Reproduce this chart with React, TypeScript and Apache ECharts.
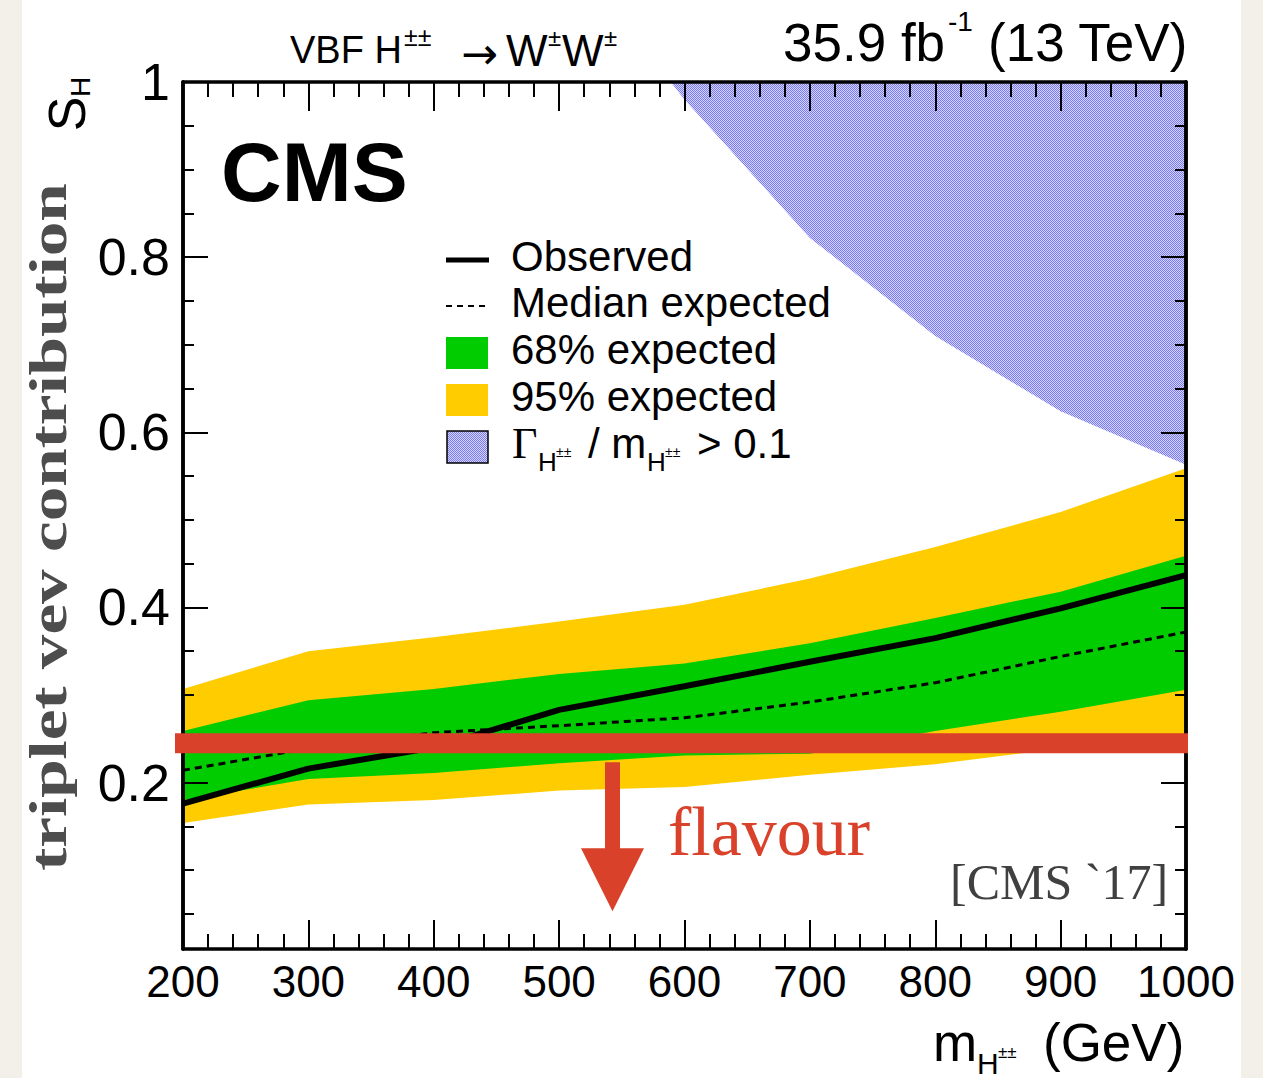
import React, { useEffect, useRef } from "react";
import * as echarts from "echarts";

// Doubly-charged Higgs mass points (GeV)
const MASS = [200, 300, 400, 500, 600, 700, 800, 900, 1000];
// Upper limits on the triplet vev contribution s_H
const OBSERVED = [0.176, 0.216, 0.24, 0.283, 0.31, 0.338, 0.365, 0.399, 0.437];
const EXPECTED = [0.214, 0.239, 0.257, 0.265, 0.274, 0.292, 0.314, 0.344, 0.372];
const BAND68_LOW = [0.18, 0.204, 0.211, 0.222, 0.231, 0.233, 0.259, 0.281, 0.306];
const BAND68_HIGH = [0.259, 0.294, 0.307, 0.324, 0.336, 0.359, 0.388, 0.418, 0.459];
const BAND95_LOW = [0.154, 0.175, 0.18, 0.191, 0.195, 0.209, 0.221, 0.239, 0.252];
const BAND95_HIGH = [0.307, 0.35, 0.366, 0.384, 0.403, 0.433, 0.469, 0.509, 0.559];
// Boundary of the region with Gamma/m > 0.1
const WIDTH_MASS = [589, 600, 700, 800, 900, 1000];
const WIDTH_LIMIT = [1.0, 0.98, 0.822, 0.71, 0.624, 0.563];
// Flavour constraint on s_H
const FLAVOUR_BOUND = 0.245;

const X_MIN = 200;
const X_MAX = 1000;
const X_STEP = 100;
const Y_MIN = 0.01;
const Y_MAX = 1;
const Y_MAJOR = [0.2, 0.4, 0.6, 0.8, 1];
const Y_MINOR = [0.05, 0.1, 0.15, 0.25, 0.3, 0.35, 0.45, 0.5, 0.55, 0.65, 0.7, 0.75, 0.85, 0.9, 0.95];

const GREEN = "#00CC00";
const YELLOW = "#FFCC00";
const RED = "#D9412B";
const SANS = "Liberation Sans";
const SERIF = "Liberation Serif";

function makeHatch() {
  const c = document.createElement("canvas");
  c.width = 2;
  c.height = 2;
  const g = c.getContext("2d")!;
  g.fillStyle = "#D4D4FC";
  g.fillRect(0, 0, 2, 2);
  g.fillStyle = "#7A7AF2";
  g.fillRect(0, 0, 1, 1);
  g.fillRect(1, 1, 1, 1);
  return { image: c, repeat: "repeat", imageWidth: 2, imageHeight: 2 };
}

function bandSeries(name: string, low: number[], high: number[], color: string, z: number) {
  return {
    type: "custom",
    name,
    z,
    silent: true,
    data: MASS.map((m, i) => [m, low[i], high[i]]),
    encode: { x: 0, y: [1, 2] },
    renderItem: (params: any, api: any) => {
      if (params.dataIndex !== 0) return null;
      const upper = MASS.map((m, i) => api.coord([m, high[i]]));
      const lower = MASS.map((m, i) => api.coord([m, low[i]])).reverse();
      return {
        type: "polygon",
        shape: { points: upper.concat(lower) },
        style: { fill: color },
      };
    },
  };
}

function txt(text: string, x: number, y: number, size: number, extra: any = {}, el: any = {}) {
  const align = extra.align || "left";
  return {
    type: "text",
    x,
    y,
    z: 50,
    silent: true,
    ...el,
    style: {
      text,
      fontSize: size,
      fontFamily: SANS,
      fill: "#000",
      align,
      textAlign: align,
      verticalAlign: "middle",
      textVerticalAlign: "middle",
      ...extra,
    },
  };
}

const axisLine = { show: true, onZero: false, lineStyle: { color: "#000", width: 3.5 } };
const tickLine = { color: "#000", width: 2 };

function xAxisDef(position: "bottom" | "top", labels: boolean) {
  return {
    type: "value",
    position,
    min: X_MIN,
    max: X_MAX,
    interval: X_STEP,
    z: 10,
    axisLine,
    axisTick: { show: true, inside: true, length: 29, lineStyle: tickLine },
    minorTick: { show: true, splitNumber: 5, length: 15, lineStyle: tickLine },
    axisLabel: {
      show: labels,
      fontSize: 44,
      fontFamily: SANS,
      color: "#000",
      margin: 10,
      formatter: (v: number) => String(v),
    },
    splitLine: { show: false },
    minorSplitLine: { show: false },
  };
}

function yAxisDef(position: "left" | "right", ticks: number[], len: number, labels: boolean) {
  return {
    type: "value",
    position,
    min: Y_MIN,
    max: Y_MAX,
    z: 10,
    axisLine,
    axisTick: { show: true, inside: true, length: len, customValues: ticks, lineStyle: tickLine },
    axisLabel: {
      show: labels,
      customValues: Y_MAJOR,
      showMaxLabel: true,
      showMinLabel: true,
      fontSize: 52,
      fontFamily: SANS,
      color: "#000",
      margin: 13,
      formatter: (v: number) => String(v),
    },
    splitLine: { show: false },
  };
}

export default function App() {
  const ref = useRef<HTMLDivElement>(null);

  useEffect(() => {
    document.body.style.margin = "0";
    document.body.style.overflow = "hidden";
    const chart = echarts.init(ref.current!, undefined, { renderer: "svg" });
    const hatch = makeHatch();

    chart.setOption({
      animation: false,
      backgroundColor: "#fff",
      grid: { left: 183, right: 77, top: 82, bottom: 129, containLabel: false },
      xAxis: [xAxisDef("bottom", true), xAxisDef("top", false)],
      yAxis: [
        yAxisDef("left", Y_MAJOR, 25, true),
        yAxisDef("left", Y_MINOR, 11, false),
        yAxisDef("right", Y_MAJOR, 25, false),
        yAxisDef("right", Y_MINOR, 11, false),
      ],
      series: [
        {
          type: "line",
          name: "width",
          data: WIDTH_MASS.map((m, i) => [m, WIDTH_LIMIT[i]]),
          symbol: "none",
          silent: true,
          clip: true,
          z: 1,
          lineStyle: { width: 0, opacity: 0 },
          areaStyle: { origin: "end", color: hatch, opacity: 1 },
        },
        bandSeries("95% expected", BAND95_LOW, BAND95_HIGH, YELLOW, 2),
        bandSeries("68% expected", BAND68_LOW, BAND68_HIGH, GREEN, 3),
        {
          type: "line",
          name: "Median expected",
          data: MASS.map((m, i) => [m, EXPECTED[i]]),
          symbol: "none",
          silent: true,
          z: 4,
          lineStyle: { color: "#000", width: 3, type: [7, 5] },
        },
        {
          type: "line",
          name: "Observed",
          data: MASS.map((m, i) => [m, OBSERVED[i]]),
          symbol: "none",
          silent: true,
          z: 5,
          lineStyle: { color: "#000", width: 6 },
        },
      ],
    });

    // Flavour bound band and arrow, placed on the axis scale
    const yBand = chart.convertToPixel({ yAxisIndex: 0 }, FLAVOUR_BOUND) as number;
    const xLeft = chart.convertToPixel({ xAxisIndex: 0 }, X_MIN) as number;
    const xRight = chart.convertToPixel({ xAxisIndex: 0 }, X_MAX) as number;
    const shaftTop = yBand + 19;
    const headTop = yBand + 105;
    const tip = yBand + 168;
    const ax = 612.5;

    const graphics: any[] = [
      { type: "rect", z: -10, silent: true, shape: { x: 0, y: 0, width: 22, height: 1078 }, style: { fill: "#F3EFE9" } },
      { type: "rect", z: -10, silent: true, shape: { x: 1241, y: 0, width: 22, height: 1078 }, style: { fill: "#F3EFE9" } },
      {
        type: "rect",
        z: 100,
        silent: true,
        shape: { x: xLeft - 8, y: yBand - 10, width: xRight - xLeft + 10, height: 20 },
        style: { fill: RED },
      },
      {
        type: "polygon",
        z: 100,
        silent: true,
        shape: {
          points: [
            [ax - 7.5, shaftTop],
            [ax + 7.5, shaftTop],
            [ax + 7.5, headTop],
            [ax + 31.5, headTop],
            [ax, tip],
            [ax - 31.5, headTop],
            [ax - 7.5, headTop],
          ],
        },
        style: { fill: RED },
      },
      txt("flavour", 668, 831, 70, { fontFamily: SERIF, fill: RED }),
      txt("[CMS `17]", 950, 882, 50, { fontFamily: SERIF, fill: "#404040" }),

      // header
      txt("VBF H", 290, 50, 38),
      txt("±±", 404, 37, 25),
      txt("→", 461, 53, 44, { fontFamily: "DejaVu Sans" }),
      txt("W", 506, 50, 44),
      txt("±", 548, 37, 24),
      txt("W", 562, 50, 44),
      txt("±", 604, 37, 24),
      txt("35.9 fb", 783, 42, 53),
      txt("-1", 948, 21, 28),
      txt("(13 TeV)", 988, 42, 53),

      txt("CMS", 221, 172, 84, { fontWeight: "bold" }),

      // legend
      { type: "line", z: 50, silent: true, shape: { x1: 446, y1: 260, x2: 489, y2: 260 }, style: { stroke: "#000", lineWidth: 5 } },
      {
        type: "line",
        z: 50,
        silent: true,
        shape: { x1: 446, y1: 306, x2: 489, y2: 306 },
        style: { stroke: "#000", lineWidth: 2, lineDash: [6, 5] },
      },
      { type: "rect", z: 50, silent: true, shape: { x: 446, y: 337, width: 42, height: 32 }, style: { fill: GREEN } },
      { type: "rect", z: 50, silent: true, shape: { x: 446, y: 384, width: 42, height: 32 }, style: { fill: YELLOW } },
      {
        type: "rect",
        z: 50,
        silent: true,
        shape: { x: 447, y: 431, width: 41, height: 32 },
        style: { fill: hatch, stroke: "#000", lineWidth: 1.5 },
      },
      txt("Observed", 511, 256, 42),
      txt("Median expected", 511, 302, 42),
      txt("68% expected", 511, 349, 42),
      txt("95% expected", 511, 396, 42),
      txt("Γ", 512, 443, 44, { fontFamily: SERIF }),
      txt("H", 538, 462, 26),
      txt("±±", 556, 452, 14),
      txt("/ m", 588, 443, 42),
      txt("H", 647, 462, 26),
      txt("±±", 665, 452, 14),
      txt("> 0.1", 697, 443, 42),

      // x-axis title
      txt("m", 933, 1042, 53),
      txt("H", 977, 1063, 30),
      txt("±±", 998, 1052, 17),
      txt("(GeV)", 1043, 1042, 53),

      // y-axis titles
      txt("S", 67, 114, 52, { align: "center" }, { rotation: Math.PI / 2 }),
      txt("H", 80, 87, 28, { align: "center" }, { rotation: Math.PI / 2 }),
      txt(
        "triplet vev contribution",
        48,
        527,
        52,
        { align: "center", fontFamily: SERIF, fontWeight: "bold", fill: "#4D4D4D" },
        { rotation: Math.PI / 2, scaleX: 1.33 }
      ),
    ];

    chart.setOption({ graphic: { elements: graphics } });

    return () => chart.dispose();
  }, []);

  return <div ref={ref} style={{ width: 1263, height: 1078 }} />;
}
